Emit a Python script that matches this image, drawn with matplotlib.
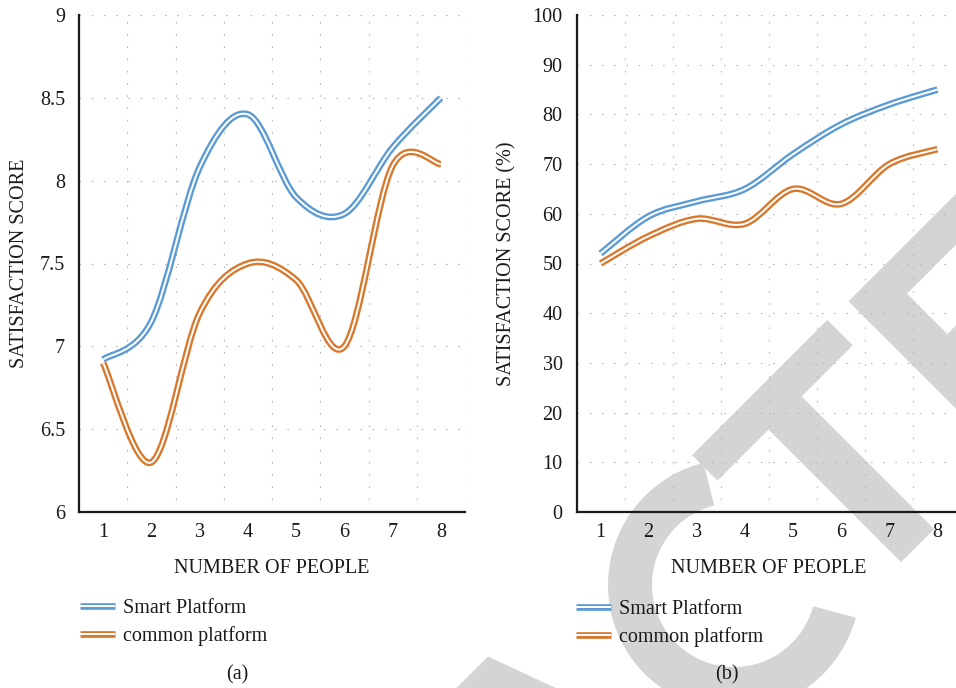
import numpy as np
import matplotlib
matplotlib.use("Agg")
import matplotlib.pyplot as plt
from matplotlib.path import Path
from matplotlib.patches import PathPatch, Wedge
from matplotlib.lines import Line2D
from matplotlib.transforms import Affine2D

# ---- data -------------------------------------------------------------
people = [1, 2, 3, 4, 5, 6, 7, 8]

smart_score = [6.92, 7.15, 8.08, 8.40, 7.90, 7.80, 8.20, 8.50]
common_score = [6.90, 6.30, 7.20, 7.50, 7.40, 7.00, 8.09, 8.10]

smart_pct = [52, 59.5, 62.5, 65, 72, 78, 82, 85]
common_pct = [50, 55.5, 59, 58, 65, 62, 70, 73]

series_names = ["Smart Platform", "common platform"]
panel_tags = ["(a)", "(b)"]

BLUE = "#5b9bd5"
ORANGE = "#d8782d"
STAMP = "#d4d4d4"
SERIF = "Liberation Serif"
FS = 14.5

W, H = 956, 688
fig = plt.figure(figsize=(W / 100, H / 100), dpi=100)
fig.patch.set_facecolor("white")


def smooth_path(xs, ys):
    """Smoothed line through the points as cubic Bezier segments."""
    pts = np.column_stack([xs, ys]).astype(float)
    n = len(pts)
    verts = [pts[0]]
    codes = [Path.MOVETO]
    for i in range(n - 1):
        p0 = pts[i - 1] if i > 0 else pts[i]
        p1 = pts[i]
        p2 = pts[i + 1]
        p3 = pts[i + 2] if i + 2 < n else pts[i + 1]
        c1 = p1 + (p2 - p0) / 6.0
        c2 = p2 - (p3 - p1) / 6.0
        verts += [c1, c2, p2]
        codes += [Path.CURVE4] * 3
    return Path(verts, codes)


def double_line(ax, xs, ys, color):
    path = smooth_path(xs, ys)
    ax.add_patch(PathPatch(path, fill=False, edgecolor=color, lw=4.8,
                           capstyle="butt", joinstyle="round", zorder=3))
    ax.add_patch(PathPatch(path, fill=False, edgecolor="white", lw=1.45,
                           capstyle="butt", joinstyle="round", zorder=4))


def setup_axes(rect, ylim, yticks, yfmt, ylabel, ylabel_x):
    ax = fig.add_axes(rect)
    ax.set_facecolor("none")
    ax.set_xlim(0.5, 8.5)
    ax.set_ylim(*ylim)
    ax.set_xticks(people)
    ax.set_xticks(np.arange(1.5, 9.0, 1.0), minor=True)
    ax.set_yticks(yticks)
    ax.set_yticklabels([yfmt(v) for v in yticks])
    for s in ("top", "right"):
        ax.spines[s].set_visible(False)
    for s in ("left", "bottom"):
        ax.spines[s].set_linewidth(1.6)
        ax.spines[s].set_color("#1a1a1a")
        ax.spines[s].set_zorder(5)
    ax.tick_params(axis="both", which="both", length=0)
    ax.tick_params(axis="x", pad=8)
    ax.tick_params(axis="y", pad=10)
    for lab in ax.get_xticklabels() + ax.get_yticklabels():
        lab.set_fontfamily(SERIF)
        lab.set_fontsize(FS)
        lab.set_color("#1a1a1a")
    grid_kw = dict(color="#b8b8b8", lw=0.8, linestyle=(0, (1.5, 9.5)))
    ax.grid(True, axis="y", which="major", **grid_kw)
    ax.grid(True, axis="x", which="minor", **grid_kw)
    ax.grid(False, axis="x", which="major")
    ax.set_axisbelow(True)
    ax.set_xlabel("NUMBER OF PEOPLE", fontfamily=SERIF, fontsize=FS,
                  color="#1a1a1a")
    ax.xaxis.set_label_coords(0.5, -0.094)
    ax.set_ylabel(ylabel, fontfamily=SERIF, fontsize=FS, color="#1a1a1a")
    ax.yaxis.set_label_coords(ylabel_x, 0.5)
    return ax


def add_legend(ax, x_px, y_px):
    handles = []
    for c in (BLUE, ORANGE):
        handles.append((Line2D([], [], color=c, lw=4.8, solid_capstyle="butt"),
                        Line2D([], [], color="white", lw=1.45,
                               solid_capstyle="butt")))
    leg = ax.legend(handles, series_names, loc="upper left",
                    bbox_to_anchor=(x_px / W, 1 - y_px / H),
                    bbox_transform=fig.transFigure, frameon=False,
                    borderpad=0, borderaxespad=0, handlelength=1.75,
                    handletextpad=0.4, labelspacing=0.4,
                    prop={"family": SERIF, "size": FS})
    for t in leg.get_texts():
        t.set_color("#1a1a1a")


ax_h = 497 / H
ax_b = 1 - 512 / H

# (a) satisfaction score
axa = setup_axes([79 / W, ax_b, 386 / W, ax_h], (6, 9),
                 [6, 6.5, 7, 7.5, 8, 8.5, 9],
                 lambda v: f"{v:g}", "SATISFACTION SCORE", -0.129)
double_line(axa, people, smart_score, BLUE)
double_line(axa, people, common_score, ORANGE)
add_legend(axa, 80, 599)

# (b) satisfaction percentage
axb = setup_axes([576.5 / W, ax_b, 385 / W, ax_h], (0, 100),
                 list(range(0, 101, 10)),
                 lambda v: f"{v:d}", "SATISFACTION SCORE (%)", -0.157)
double_line(axb, people, smart_pct, BLUE)
double_line(axb, people, common_pct, ORANGE)
add_legend(axb, 576, 600)

for tag, xc in zip(panel_tags, (237, 727)):
    fig.text(xc / W, 1 - 675 / H, tag, ha="center", va="center",
             fontfamily=SERIF, fontsize=FS, color="#1a1a1a")

# diagonal page stamp behind the plots: letters set one by one along a
# 45-degree baseline (offsets in pixels from the stem of the last "T":
# along the baseline and across it)
stamp_origin = np.array([924.0, 550.0])
stamp_dir = np.array([1.0, -1.0]) / np.sqrt(2.0)
stamp_up = np.array([-1.0, -1.0]) / np.sqrt(2.0)
stamp_letters = [("A", -408, 15), ("T", 0, 10), ("E", 215, 20),
                 ("D", 443, 20)]
for ch, s, h in stamp_letters:
    px, py = stamp_origin + s * stamp_dir + h * stamp_up
    fig.text(px / W, 1 - py / H, ch, rotation=45, rotation_mode="anchor",
             ha="center", va="baseline", fontfamily="Liberation Sans",
             fontweight="bold", fontsize=234, color=STAMP, zorder=-1)

# the round "C" of the stamp, as an open ring in pixel units
px_trans = Affine2D().scale(1.0 / fig.dpi) + fig.dpi_scale_trans
ring = Wedge((734, H - 585), 126, 104, 345, width=44, transform=px_trans,
             facecolor=STAMP, edgecolor="none", zorder=-1)
fig.patches.append(ring)

fig.savefig("out.png", dpi=100, facecolor="white")
